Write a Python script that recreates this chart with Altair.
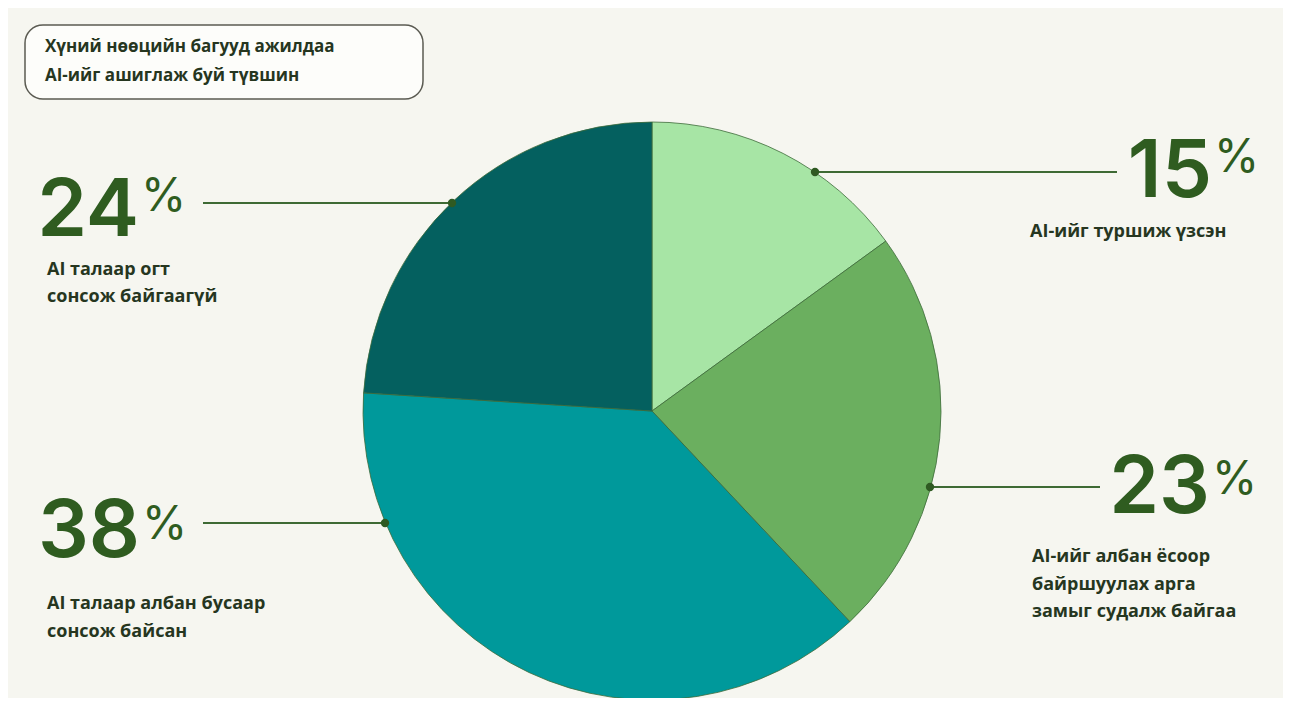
import altair as alt
import pandas as pd

# ---------------- data ----------------
values = [15, 23, 38, 24]
categories = ["AI-ийг туршиж үзсэн",
              "AI-ийг албан ёсоор байршуулах арга замыг судалж байгаа",
              "AI талаар албан бусаар сонсож байсан",
              "AI талаар огт сонсож байгаагүй"]
label_lines = [["AI-ийг туршиж үзсэн"],
               ["AI-ийг албан ёсоор", "байршуулах арга", "замыг судалж байгаа"],
               ["AI талаар албан бусаар", "сонсож байсан"],
               ["AI талаар огт", "сонсож байгаагүй"]]
colors = ["#a7e5a5", "#6baf5f", "#00999b", "#04605f"]
title_lines = ["Хүний нөөцийн багууд ажилдаа", "AI-ийг ашиглаж буй түвшин"]

# ---------------- layout (pixels inside the chart) ----------------
W, H = 1275, 690
OFF = 8
CX, CY, R = 652 - OFF, 411 - OFF, 289
num_right = [1212, 1210, 140, 139]
num_base = [197, 513, 557, 236]
pct_left = [1214, 1212, 142, 141]
pct_top = [136, 458, 503, 175]
dot_x = [815, 930, 385, 452]
dot_y = [172, 487, 523, 203]
line_end = [1117, 1100, 203, 203]
lab_x = [1030, 1032, 47, 47]
lab_y = [[232], [557, 585, 612], [604, 632], [270, 297]]

NUM_COLOR = "#2f5c20"
TXT_COLOR = "#26361f"
LINE_COLOR = "#3e6a34"

XS = alt.Scale(domain=[0, W], range=[0, W])
YS = alt.Scale(domain=[0, H], range=[0, H])

pie_df = pd.DataFrame({"cat": categories, "value": values, "idx": list(range(len(values)))})

pie = alt.Chart(pie_df).mark_arc(radius=R, stroke="#3d6b3a", strokeWidth=0.8).encode(
    theta=alt.Theta("value:Q", stack=True),
    order=alt.Order("idx:Q"),
    color=alt.Color("cat:N", scale=alt.Scale(domain=categories, range=colors), legend=None),
    x=alt.value(CX), y=alt.value(CY),
)

lines_df = pd.DataFrame({
    "x1": [x - OFF for x in dot_x],
    "x2": [x - OFF for x in line_end],
    "y": [y - OFF for y in dot_y],
})
lines = alt.Chart(lines_df).mark_rule(color=LINE_COLOR, strokeWidth=2).encode(
    x=alt.X("x1:Q", scale=XS, axis=None),
    x2="x2:Q",
    y=alt.Y("y:Q", scale=YS, axis=None),
)
dots = alt.Chart(lines_df).mark_point(filled=True, size=70, color="#2f5a22", opacity=1).encode(
    x=alt.X("x1:Q", scale=XS, axis=None),
    y=alt.Y("y:Q", scale=YS, axis=None),
)

num_df = pd.DataFrame({
    "num": [str(v) for v in values],
    "x": [x - OFF for x in num_right],
    "y": [y - OFF for y in num_base],
})
nums = alt.Chart(num_df).mark_text(
    align="right", baseline="alphabetic", font="Inter", fontSize=80, fontWeight=600,
    color=NUM_COLOR,
).encode(
    x=alt.X("x:Q", scale=XS, axis=None),
    y=alt.Y("y:Q", scale=YS, axis=None),
    text="num:N",
)

pct_df = pd.DataFrame({
    "p": ["%"] * len(values),
    "x": [x - OFF for x in pct_left],
    "y": [y - OFF for y in pct_top],
})
pcts = alt.Chart(pct_df).mark_text(
    align="left", baseline="top", font="Inter", fontSize=46, fontWeight=400, color=NUM_COLOR,
).encode(
    x=alt.X("x:Q", scale=XS, axis=None),
    y=alt.Y("y:Q", scale=YS, axis=None),
    text="p:N",
)

lab_rows = []
for i, lines_i in enumerate(label_lines):
    for j, t in enumerate(lines_i):
        lab_rows.append({"t": t, "x": lab_x[i] - OFF, "y": lab_y[i][j] - OFF})
lab_df = pd.DataFrame(lab_rows)
labs = alt.Chart(lab_df).mark_text(
    align="left", baseline="middle", font="Open Sans", fontSize=18, fontWeight="bold", color=TXT_COLOR,
).encode(
    x=alt.X("x:Q", scale=XS, axis=None),
    y=alt.Y("y:Q", scale=YS, axis=None),
    text="t:N",
)

box = alt.Chart(pd.DataFrame({"a": [0]})).mark_rect(
    cornerRadius=18, fill="#fdfdfa", stroke="#5b5b52", strokeWidth=1.5,
).encode(
    x=alt.value(25 - OFF), x2=alt.value(423 - OFF), y=alt.value(25 - OFF), y2=alt.value(99 - OFF),
)

title_df = pd.DataFrame({"t": title_lines, "x": [45 - OFF] * 2, "y": [47 - OFF, 76 - OFF]})
title = alt.Chart(title_df).mark_text(
    align="left", baseline="middle", font="Open Sans", fontSize=17, fontWeight="bold", color=TXT_COLOR,
).encode(
    x=alt.X("x:Q", scale=XS, axis=None),
    y=alt.Y("y:Q", scale=YS, axis=None),
    text="t:N",
)

chart = alt.layer(pie, lines, dots, nums, pcts, labs, box, title).properties(
    width=W, height=H, padding=0,
    autosize=alt.AutoSizeParams(type="fit", contains="padding"),
    background="#f6f6f0",
).configure_view(strokeWidth=0)

chart.save("out.html", embed_options={"renderer": "svg", "actions": False})
